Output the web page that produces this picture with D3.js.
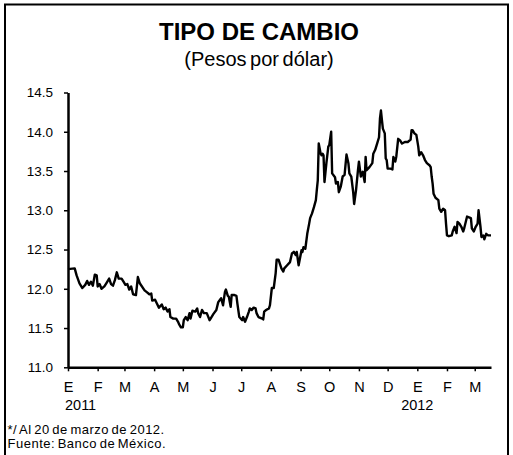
<!DOCTYPE html>
<html>
<head>
<meta charset="utf-8">
<script src="https://cdn.jsdelivr.net/npm/d3@7"></script>
<style>
  body { margin: 0; background: #fff; }
  svg { display: block; font-family: "Liberation Sans", Arial, sans-serif; }
</style>
</head>
<body>
<svg id="grafica"></svg>
<script>
// Constantes del lienzo
const WIDTH = 513;
const HEIGHT = 455;

const margins = { top: 92.5, bottom: 87.7, left: 68, right: 22 };

// Datos: fechas y tipo de cambio (pesos por dólar)
const fechas = [
  "2011-01-03","2011-01-10","2011-01-12","2011-01-15","2011-01-18","2011-01-21","2011-01-23","2011-01-25",
  "2011-01-27","2011-01-29","2011-01-31","2011-02-02","2011-02-03","2011-02-05","2011-02-07","2011-02-10",
  "2011-02-12","2011-02-15","2011-02-17","2011-02-19","2011-02-21","2011-02-23","2011-02-25","2011-02-28",
  "2011-03-02","2011-03-04","2011-03-06","2011-03-08","2011-03-10","2011-03-12","2011-03-15","2011-03-17",
  "2011-03-19","2011-03-24","2011-03-26","2011-03-29","2011-03-31","2011-04-01","2011-04-04","2011-04-06",
  "2011-04-08","2011-04-11","2011-04-13","2011-04-15","2011-04-17","2011-04-19","2011-04-20","2011-04-23",
  "2011-04-26","2011-04-28","2011-04-29","2011-05-01","2011-05-03","2011-05-04","2011-05-06","2011-05-08",
  "2011-05-10","2011-05-11","2011-05-13","2011-05-16","2011-05-18","2011-05-19","2011-05-21","2011-05-23",
  "2011-05-25","2011-05-28","2011-05-31","2011-06-01","2011-06-04","2011-06-07","2011-06-09","2011-06-12",
  "2011-06-14","2011-06-16","2011-06-17","2011-06-19","2011-06-20","2011-06-22","2011-06-23","2011-06-26",
  "2011-06-28","2011-06-29","2011-07-01","2011-07-04","2011-07-05","2011-07-07","2011-07-09","2011-07-11",
  "2011-07-12","2011-07-14","2011-07-16","2011-07-18","2011-07-19","2011-07-21","2011-07-25","2011-07-26",
  "2011-07-27","2011-07-29","2011-08-01","2011-08-02","2011-08-04","2011-08-06","2011-08-08","2011-08-09",
  "2011-08-11","2011-08-14","2011-08-16","2011-08-17","2011-08-20","2011-08-23","2011-08-25","2011-08-27",
  "2011-08-29","2011-08-30","2011-09-01","2011-09-04","2011-09-05","2011-09-06","2011-09-08","2011-09-10",
  "2011-09-12","2011-09-13","2011-09-15","2011-09-17","2011-09-19","2011-09-20","2011-09-21","2011-09-22",
  "2011-09-24","2011-09-25","2011-09-26","2011-09-27","2011-09-28","2011-09-30","2011-10-02","2011-10-03",
  "2011-10-05","2011-10-06","2011-10-09","2011-10-10","2011-10-12","2011-10-13","2011-10-15","2011-10-17",
  "2011-10-19","2011-10-21","2011-10-23","2011-10-24","2011-10-26","2011-10-28","2011-10-29","2011-10-31",
  "2011-11-02","2011-11-03","2011-11-05","2011-11-07","2011-11-09","2011-11-10","2011-11-11","2011-11-14",
  "2011-11-17","2011-11-18","2011-11-20","2011-11-22","2011-11-24","2011-11-25","2011-11-26","2011-11-27",
  "2011-11-28","2011-11-30","2011-12-01","2011-12-02","2011-12-03","2011-12-06","2011-12-08","2011-12-09",
  "2011-12-11","2011-12-12","2011-12-14","2011-12-16","2011-12-18","2011-12-21","2011-12-24","2011-12-27",
  "2011-12-28","2011-12-29","2011-12-31","2012-01-02","2012-01-04","2012-01-05","2012-01-07","2012-01-09",
  "2012-01-11","2012-01-13","2012-01-16","2012-01-17","2012-01-18","2012-01-19","2012-01-20","2012-01-22",
  "2012-01-25","2012-01-26","2012-01-28","2012-01-30","2012-02-01","2012-02-02","2012-02-03","2012-02-05",
  "2012-02-08","2012-02-09","2012-02-11","2012-02-13","2012-02-14","2012-02-16","2012-02-18","2012-02-20",
  "2012-02-21","2012-02-24","2012-02-26","2012-02-28","2012-02-29","2012-03-02","2012-03-04","2012-03-06",
  "2012-03-07","2012-03-09","2012-03-10","2012-03-12","2012-03-13","2012-03-15","2012-03-17","2012-03-20"
];

const tipoCambio = [
  12.25,12.26,12.17,12.07,12.01,12.05,12.10,12.05,
  12.09,12.04,12.18,12.17,12.03,12.06,12.00,12.03,
  12.07,12.13,12.06,12.04,12.11,12.21,12.13,12.13,
  12.09,12.05,12.06,11.99,12.03,11.93,11.92,12.15,
  12.07,11.98,11.96,11.93,11.94,11.85,11.86,11.81,
  11.76,11.80,11.74,11.76,11.71,11.74,11.64,11.62,
  11.62,11.58,11.55,11.51,11.51,11.60,11.64,11.60,
  11.69,11.62,11.72,11.71,11.75,11.69,11.64,11.73,
  11.69,11.69,11.60,11.62,11.68,11.73,11.83,11.88,
  11.79,11.96,11.99,11.91,11.90,11.77,11.92,11.92,
  11.91,11.81,11.64,11.60,11.64,11.58,11.64,11.71,
  11.75,11.73,11.76,11.75,11.69,11.64,11.62,11.61,
  11.71,11.73,11.75,11.79,12.01,12.01,12.20,12.37,
  12.37,12.26,12.22,12.26,12.30,12.34,12.45,12.47,
  12.43,12.47,12.30,12.49,12.47,12.53,12.51,12.70,
  12.83,12.90,12.96,13.04,13.13,13.26,13.38,13.85,
  13.72,13.70,13.72,13.70,13.36,13.60,13.81,13.83,
  14.00,13.47,13.42,13.34,13.36,13.23,13.30,13.43,
  13.45,13.71,13.60,13.47,13.43,13.23,13.08,13.26,
  13.51,13.62,13.43,13.49,13.36,13.68,13.51,13.55,
  13.60,13.72,13.77,13.85,13.93,14.17,14.27,14.15,
  14.04,13.98,13.66,13.64,13.53,13.53,13.52,13.68,
  13.62,13.68,13.91,13.89,13.85,13.87,13.87,13.90,
  14.02,14.02,13.98,13.96,13.81,13.70,13.74,13.70,
  13.64,13.60,13.57,13.55,13.43,13.34,13.21,13.16,
  13.13,13.02,12.98,13.02,13.00,12.83,12.68,12.67,
  12.68,12.73,12.79,12.71,12.85,12.83,12.79,12.73,
  12.77,12.92,12.91,12.90,12.77,12.73,12.79,12.83,
  13.00,12.79,12.66,12.68,12.63,12.70,12.68,12.68
];

// Etiquetas de los ejes
const etiquetasMes = ["E","F","M","A","M","J","J","A","S","O","N","D","E","F","M"];
const etiquetasAnio = ["2011", "2012"];
const ticksY = [11.0, 11.5, 12.0, 12.5, 13.0, 13.5, 14.0, 14.5];

const titulo = "TIPO DE CAMBIO";
const subtitulo = "(Pesos por dólar)";
const notas = ["*/ Al 20 de marzo de 2012.", "Fuente: Banco de México."];

const parseFecha = d3.timeParse("%Y-%m-%d");
const datos = fechas.map((f, i) => ({ fecha: parseFecha(f), valor: tipoCambio[i] }));

const widthVis = WIDTH - margins.left - margins.right;
const heightVis = HEIGHT - margins.top - margins.bottom;

const svg = d3.select("#grafica")
  .attr("width", WIDTH)
  .attr("height", HEIGHT);

// Marco de la gráfica
svg.append("rect")
  .attr("x", 5)
  .attr("y", 4.5)
  .attr("width", 503)
  .attr("height", 460)
  .attr("fill", "none")
  .attr("stroke", "#000")
  .attr("stroke-width", 2);

// Título
svg.append("text")
  .attr("x", 259)
  .attr("y", 40)
  .attr("text-anchor", "middle")
  .attr("font-size", 24)
  .attr("font-weight", "bold")
  .text(titulo);

svg.append("text")
  .attr("x", 259)
  .attr("y", 66)
  .attr("text-anchor", "middle")
  .attr("font-size", 20)
  .attr("word-spacing", -2)
  .text(subtitulo);

// Escalas: el eje de fechas empieza el 3 de enero y marca cada mes en ese día
const inicio = datos[0].fecha;
const fin = datos[datos.length - 1].fecha;

const escalaX = d3.scaleTime()
  .domain([inicio, fin])
  .range([0, widthVis]);

const escalaY = d3.scaleLinear()
  .domain([11, 14.5])
  .range([heightVis, 0]);

const ticksX = d3.timeMonth.range(d3.timeMonth.floor(inicio), fin)
  .map(d => d3.timeDay.offset(d, inicio.getDate() - 1));

const g = svg.append("g")
  .attr("transform", `translate(${margins.left},${margins.top})`);

// Eje Y
const ejeY = d3.axisLeft(escalaY)
  .tickValues(ticksY)
  .tickFormat(d3.format(".1f"))
  .tickSizeInner(4)
  .tickSizeOuter(0)
  .tickPadding(11);

const contenedorEjeY = g.append("g").call(ejeY);
contenedorEjeY.select(".domain").attr("stroke-width", 2.5);
contenedorEjeY.selectAll(".tick line").attr("stroke-width", 1.5);
contenedorEjeY.selectAll(".tick text")
  .attr("font-size", 13.5)
  .attr("font-family", "'Liberation Sans', Arial, sans-serif")
  .attr("fill", "#000");

// Eje X
const ejeX = d3.axisBottom(escalaX)
  .tickValues(ticksX)
  .tickFormat((d, i) => etiquetasMes[i])
  .tickSizeInner(4)
  .tickSizeOuter(0)
  .tickPadding(10);

const contenedorEjeX = g.append("g")
  .attr("transform", `translate(0,${heightVis})`)
  .call(ejeX);
contenedorEjeX.select(".domain").attr("stroke-width", 2.5);
contenedorEjeX.selectAll(".tick line").attr("stroke-width", 1.5);
contenedorEjeX.selectAll(".tick text")
  .attr("font-size", 14.5)
  .attr("font-family", "'Liberation Sans', Arial, sans-serif")
  .attr("fill", "#000");

// Años debajo de enero
const ticksAnio = ticksX.filter(d => d.getMonth() === 0);
contenedorEjeX.selectAll(".anio")
  .data(ticksAnio)
  .join("text")
  .attr("class", "anio")
  .attr("x", (d, i) => escalaX(d) + (i === 0 ? -3 : 0))
  .attr("y", 42.5)
  .attr("text-anchor", (d, i) => i === 0 ? "start" : "middle")
  .attr("font-size", 14.5)
  .attr("fill", "#000")
  .text((d, i) => etiquetasAnio[i]);

// Serie del tipo de cambio
const linea = d3.line()
  .x(d => escalaX(d.fecha))
  .y(d => escalaY(d.valor));

g.append("path")
  .datum(datos)
  .attr("fill", "none")
  .attr("stroke", "#000")
  .attr("stroke-width", 2.4)
  .attr("stroke-linejoin", "round")
  .attr("d", linea);

// Notas al pie
svg.selectAll(".nota")
  .data(notas)
  .join("text")
  .attr("class", "nota")
  .attr("x", 7.5)
  .attr("y", (d, i) => 433.5 + i * 14)
  .attr("font-size", 13)
  .attr("letter-spacing", 0.5)
  .attr("word-spacing", -1.5)
  .text(d => d);
</script>
</body>
</html>
